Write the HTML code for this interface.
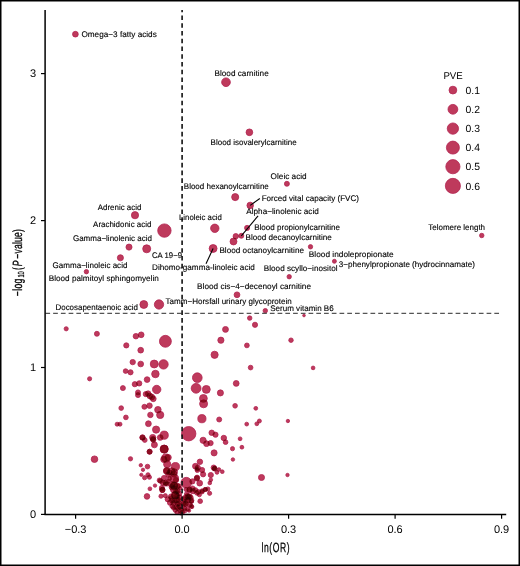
<!DOCTYPE html>
<html><head><meta charset="utf-8"><style>
html,body{margin:0;padding:0;background:#fff;}
body{width:520px;height:566px;overflow:hidden;}
svg{display:block;font-family:"Liberation Sans",sans-serif;text-rendering:geometricPrecision;}
</style></head><body>
<svg width="520" height="566" viewBox="0 0 520 566">
<rect x="0" y="0" width="520" height="566" fill="#fff"/>
<g fill="#be3a5c" stroke="#b32452" stroke-width="0.8">
<circle cx="75.4" cy="34.2" r="2.85" style="mix-blend-mode:multiply"/><circle cx="226" cy="82.25" r="4.35" style="mix-blend-mode:multiply"/><circle cx="249.4" cy="132.3" r="3.35" style="mix-blend-mode:multiply"/><circle cx="286.9" cy="183.8" r="2.50" style="mix-blend-mode:multiply"/><circle cx="235.2" cy="197.1" r="3.55" style="mix-blend-mode:multiply"/><circle cx="250.2" cy="205.4" r="3.25" style="mix-blend-mode:multiply"/><circle cx="135" cy="215.2" r="3.60" style="mix-blend-mode:multiply"/><circle cx="164.4" cy="230.6" r="6.70" style="mix-blend-mode:multiply"/><circle cx="214.8" cy="228.3" r="4.20" style="mix-blend-mode:multiply"/><circle cx="247.1" cy="227.9" r="2.55" style="mix-blend-mode:multiply"/><circle cx="241.3" cy="235.8" r="2.50" style="mix-blend-mode:multiply"/><circle cx="235.8" cy="236.2" r="2.70" style="mix-blend-mode:multiply"/><circle cx="233.5" cy="241.5" r="3.45" style="mix-blend-mode:multiply"/><circle cx="213.1" cy="248.5" r="3.95" style="mix-blend-mode:multiply"/><circle cx="129" cy="247.1" r="3.05" style="mix-blend-mode:multiply"/><circle cx="146.7" cy="248.8" r="4.00" style="mix-blend-mode:multiply"/><circle cx="120.4" cy="257.8" r="3.05" style="mix-blend-mode:multiply"/><circle cx="86.4" cy="271.7" r="2.20" style="mix-blend-mode:multiply"/><circle cx="310.5" cy="246.8" r="2.20" style="mix-blend-mode:multiply"/><circle cx="334.4" cy="261.3" r="2.00" style="mix-blend-mode:multiply"/><circle cx="289.2" cy="276.7" r="2.20" style="mix-blend-mode:multiply"/><circle cx="481.75" cy="235.5" r="2.23" style="mix-blend-mode:multiply"/><circle cx="237" cy="294.8" r="2.90" style="mix-blend-mode:multiply"/><circle cx="143.8" cy="304.5" r="3.93" style="mix-blend-mode:multiply"/><circle cx="159" cy="304.5" r="4.65" style="mix-blend-mode:multiply"/><circle cx="265.3" cy="310.7" r="2.25" style="mix-blend-mode:multiply"/><circle cx="304" cy="315.5" r="1.35" style="mix-blend-mode:multiply"/><circle cx="249.7" cy="318.1" r="2.25" style="mix-blend-mode:multiply"/><circle cx="255" cy="324.8" r="2.60" style="mix-blend-mode:multiply"/><circle cx="66.2" cy="328.8" r="2.10" style="mix-blend-mode:multiply"/><circle cx="96.9" cy="333.8" r="2.50" style="mix-blend-mode:multiply"/><circle cx="135.9" cy="336.2" r="2.75" style="mix-blend-mode:multiply"/><circle cx="141.2" cy="334.8" r="2.85" style="mix-blend-mode:multiply"/><circle cx="126.3" cy="345.4" r="2.60" style="mix-blend-mode:multiply"/><circle cx="140.7" cy="350.2" r="2.85" style="mix-blend-mode:multiply"/><circle cx="132.7" cy="362.1" r="2.70" style="mix-blend-mode:multiply"/><circle cx="140.7" cy="364" r="2.85" style="mix-blend-mode:multiply"/><circle cx="125.6" cy="371.1" r="2.35" style="mix-blend-mode:multiply"/><circle cx="130.5" cy="372.3" r="2.60" style="mix-blend-mode:multiply"/><circle cx="89.6" cy="378.8" r="2.10" style="mix-blend-mode:multiply"/><circle cx="134.8" cy="384.2" r="2.60" style="mix-blend-mode:multiply"/><circle cx="139.2" cy="383.4" r="2.65" style="mix-blend-mode:multiply"/><circle cx="165.4" cy="341.3" r="5.95" style="mix-blend-mode:multiply"/><circle cx="154.2" cy="364" r="3.95" style="mix-blend-mode:multiply"/><circle cx="163.5" cy="364.4" r="4.70" style="mix-blend-mode:multiply"/><circle cx="155.4" cy="374" r="3.75" style="mix-blend-mode:multiply"/><circle cx="147.1" cy="379.6" r="2.85" style="mix-blend-mode:multiply"/><circle cx="225.5" cy="329.4" r="2.95" style="mix-blend-mode:multiply"/><circle cx="220.9" cy="340.2" r="3.10" style="mix-blend-mode:multiply"/><circle cx="214.6" cy="354.8" r="3.60" style="mix-blend-mode:multiply"/><circle cx="197.3" cy="377.7" r="4.85" style="mix-blend-mode:multiply"/><circle cx="246.9" cy="345.4" r="2.40" style="mix-blend-mode:multiply"/><circle cx="291" cy="340.2" r="2.25" style="mix-blend-mode:multiply"/><circle cx="250.6" cy="367.6" r="2.35" style="mix-blend-mode:multiply"/><circle cx="313.1" cy="367.9" r="1.85" style="mix-blend-mode:multiply"/><circle cx="287.9" cy="421" r="1.70" style="mix-blend-mode:multiply"/><circle cx="261.5" cy="477.5" r="3.05" style="mix-blend-mode:multiply"/><circle cx="287.5" cy="475" r="1.70" style="mix-blend-mode:multiply"/><circle cx="122.9" cy="388.1" r="2.50" style="mix-blend-mode:multiply"/><circle cx="138" cy="392.4" r="2.50" style="mix-blend-mode:multiply"/><circle cx="138" cy="395.1" r="2.50" style="mix-blend-mode:multiply"/><circle cx="121.2" cy="408.1" r="2.35" style="mix-blend-mode:multiply"/><circle cx="125.9" cy="417.4" r="2.35" style="mix-blend-mode:multiply"/><circle cx="117.1" cy="424.2" r="2.00" style="mix-blend-mode:multiply"/><circle cx="120" cy="424.2" r="2.00" style="mix-blend-mode:multiply"/><circle cx="156.7" cy="389.5" r="4.20" style="mix-blend-mode:multiply"/><circle cx="145.8" cy="394.1" r="2.60" style="mix-blend-mode:multiply"/><circle cx="148.1" cy="393.6" r="2.75" style="mix-blend-mode:multiply"/><circle cx="149.8" cy="395.9" r="2.85" style="mix-blend-mode:multiply"/><circle cx="151.8" cy="397" r="2.85" style="mix-blend-mode:multiply"/><circle cx="153.3" cy="398.8" r="2.85" style="mix-blend-mode:multiply"/><circle cx="144.4" cy="406.8" r="2.50" style="mix-blend-mode:multiply"/><circle cx="149.5" cy="405.7" r="2.75" style="mix-blend-mode:multiply"/><circle cx="157.9" cy="409.7" r="3.25" style="mix-blend-mode:multiply"/><circle cx="160.2" cy="414.9" r="3.60" style="mix-blend-mode:multiply"/><circle cx="150.4" cy="414.9" r="2.75" style="mix-blend-mode:multiply"/><circle cx="148.4" cy="423.7" r="2.90" style="mix-blend-mode:multiply"/><circle cx="156.1" cy="429.6" r="3.60" style="mix-blend-mode:multiply"/><circle cx="164.2" cy="435.2" r="4.10" style="mix-blend-mode:multiply"/><circle cx="160.2" cy="437.5" r="2.85" style="mix-blend-mode:multiply"/><circle cx="142.5" cy="437.5" r="2.60" style="mix-blend-mode:multiply"/><circle cx="144.8" cy="440.1" r="2.35" style="mix-blend-mode:multiply"/><circle cx="152.7" cy="437.5" r="3.10" style="mix-blend-mode:multiply"/><circle cx="153.3" cy="439.8" r="2.60" style="mix-blend-mode:multiply"/><circle cx="154.4" cy="444.8" r="3.00" style="mix-blend-mode:multiply"/><circle cx="164.2" cy="449.1" r="4.00" style="mix-blend-mode:multiply"/><circle cx="149.6" cy="451.7" r="2.50" style="mix-blend-mode:multiply"/><circle cx="196.1" cy="388.3" r="4.90" style="mix-blend-mode:multiply"/><circle cx="206.3" cy="389.4" r="3.95" style="mix-blend-mode:multiply"/><circle cx="220.4" cy="392.9" r="3.05" style="mix-blend-mode:multiply"/><circle cx="236.2" cy="383.4" r="2.90" style="mix-blend-mode:multiply"/><circle cx="203.4" cy="398.4" r="3.90" style="mix-blend-mode:multiply"/><circle cx="203.6" cy="403.8" r="4.00" style="mix-blend-mode:multiply"/><circle cx="235.1" cy="405.8" r="2.35" style="mix-blend-mode:multiply"/><circle cx="255.8" cy="408.3" r="1.90" style="mix-blend-mode:multiply"/><circle cx="201.9" cy="418.7" r="4.10" style="mix-blend-mode:multiply"/><circle cx="219.2" cy="419.5" r="2.50" style="mix-blend-mode:multiply"/><circle cx="188.7" cy="433.7" r="7.20" style="mix-blend-mode:multiply"/><circle cx="211.7" cy="432.8" r="2.75" style="mix-blend-mode:multiply"/><circle cx="215.5" cy="434.7" r="2.60" style="mix-blend-mode:multiply"/><circle cx="223.8" cy="438" r="2.75" style="mix-blend-mode:multiply"/><circle cx="225.6" cy="442.2" r="2.35" style="mix-blend-mode:multiply"/><circle cx="203.1" cy="440.3" r="3.10" style="mix-blend-mode:multiply"/><circle cx="206.5" cy="443.7" r="2.85" style="mix-blend-mode:multiply"/><circle cx="210.6" cy="443.1" r="2.60" style="mix-blend-mode:multiply"/><circle cx="232.5" cy="448.7" r="2.10" style="mix-blend-mode:multiply"/><circle cx="246.7" cy="424.1" r="1.90" style="mix-blend-mode:multiply"/><circle cx="256.8" cy="423.8" r="1.90" style="mix-blend-mode:multiply"/><circle cx="259.4" cy="421" r="2.00" style="mix-blend-mode:multiply"/><circle cx="240.1" cy="438.8" r="1.90" style="mix-blend-mode:multiply"/><circle cx="241.9" cy="447.2" r="1.90" style="mix-blend-mode:multiply"/><circle cx="232.9" cy="459.5" r="1.75" style="mix-blend-mode:multiply"/><circle cx="94.5" cy="459.2" r="3.30" style="mix-blend-mode:multiply"/><circle cx="130.5" cy="458.8" r="2.15" style="mix-blend-mode:multiply"/><circle cx="165.8" cy="458" r="4.10" style="mix-blend-mode:multiply"/><circle cx="168.2" cy="457.5" r="3.10" style="mix-blend-mode:multiply"/><circle cx="163.8" cy="459.4" r="3.10" style="mix-blend-mode:multiply"/><circle cx="140.8" cy="465.2" r="1.70" style="mix-blend-mode:multiply"/><circle cx="147.5" cy="466.6" r="2.35" style="mix-blend-mode:multiply"/><circle cx="143" cy="469.8" r="1.70" style="mix-blend-mode:multiply"/><circle cx="167.2" cy="464.2" r="3.60" style="mix-blend-mode:multiply"/><circle cx="175.4" cy="466.6" r="4.10" style="mix-blend-mode:multiply"/><circle cx="166.7" cy="470.5" r="3.10" style="mix-blend-mode:multiply"/><circle cx="171.5" cy="471.4" r="3.60" style="mix-blend-mode:multiply"/><circle cx="174.4" cy="471.9" r="3.10" style="mix-blend-mode:multiply"/><circle cx="141.3" cy="474.8" r="1.60" style="mix-blend-mode:multiply"/><circle cx="148" cy="474.8" r="2.10" style="mix-blend-mode:multiply"/><circle cx="144.6" cy="477.7" r="2.10" style="mix-blend-mode:multiply"/><circle cx="149.4" cy="477.2" r="2.10" style="mix-blend-mode:multiply"/><circle cx="174.5" cy="478.5" r="4.10" style="mix-blend-mode:multiply"/><circle cx="149.9" cy="488.8" r="1.90" style="mix-blend-mode:multiply"/><circle cx="155" cy="485.6" r="1.70" style="mix-blend-mode:multiply"/><circle cx="147" cy="496.4" r="2.80" style="mix-blend-mode:multiply"/><circle cx="159.5" cy="480.3" r="2.35" style="mix-blend-mode:multiply"/><circle cx="162.9" cy="482.7" r="2.60" style="mix-blend-mode:multiply"/><circle cx="165.8" cy="482.7" r="2.60" style="mix-blend-mode:multiply"/><circle cx="162.4" cy="489.9" r="2.60" style="mix-blend-mode:multiply"/><circle cx="161" cy="496.2" r="2.10" style="mix-blend-mode:multiply"/><circle cx="165.3" cy="495.7" r="2.10" style="mix-blend-mode:multiply"/><circle cx="214.1" cy="452.9" r="3.05" style="mix-blend-mode:multiply"/><circle cx="199.9" cy="461.8" r="2.75" style="mix-blend-mode:multiply"/><circle cx="195.4" cy="466.2" r="2.85" style="mix-blend-mode:multiply"/><circle cx="197.8" cy="467.6" r="2.60" style="mix-blend-mode:multiply"/><circle cx="202.1" cy="470" r="2.60" style="mix-blend-mode:multiply"/><circle cx="197.3" cy="470.5" r="2.10" style="mix-blend-mode:multiply"/><circle cx="203.1" cy="474.3" r="2.60" style="mix-blend-mode:multiply"/><circle cx="210.8" cy="475" r="2.60" style="mix-blend-mode:multiply"/><circle cx="213.7" cy="467.6" r="2.60" style="mix-blend-mode:multiply"/><circle cx="214.6" cy="468.6" r="2.35" style="mix-blend-mode:multiply"/><circle cx="218.9" cy="469.5" r="1.85" style="mix-blend-mode:multiply"/><circle cx="217" cy="472.4" r="1.85" style="mix-blend-mode:multiply"/><circle cx="222.3" cy="471.7" r="1.85" style="mix-blend-mode:multiply"/><circle cx="197.1" cy="477.7" r="2.60" style="mix-blend-mode:multiply"/><circle cx="186.3" cy="482.7" r="5.35" style="mix-blend-mode:multiply"/><circle cx="196.8" cy="478.4" r="2.60" style="mix-blend-mode:multiply"/><circle cx="199.7" cy="483.2" r="2.85" style="mix-blend-mode:multiply"/><circle cx="210.8" cy="479.8" r="1.85" style="mix-blend-mode:multiply"/><circle cx="209.8" cy="482.9" r="1.85" style="mix-blend-mode:multiply"/><circle cx="207.9" cy="489" r="2.10" style="mix-blend-mode:multiply"/><circle cx="205.5" cy="489.5" r="2.10" style="mix-blend-mode:multiply"/><circle cx="209.6" cy="493.3" r="2.10" style="mix-blend-mode:multiply"/><circle cx="202.1" cy="490.9" r="2.10" style="mix-blend-mode:multiply"/><circle cx="198.3" cy="491.9" r="2.35" style="mix-blend-mode:multiply"/><circle cx="195.4" cy="490" r="2.35" style="mix-blend-mode:multiply"/><circle cx="192.5" cy="488.5" r="2.60" style="mix-blend-mode:multiply"/><circle cx="189.6" cy="490" r="2.60" style="mix-blend-mode:multiply"/><circle cx="200.2" cy="501.2" r="2.35" style="mix-blend-mode:multiply"/><circle cx="190.6" cy="497.6" r="2.60" style="mix-blend-mode:multiply"/><circle cx="187.7" cy="496.2" r="2.60" style="mix-blend-mode:multiply"/><circle cx="191.5" cy="501.5" r="2.10" style="mix-blend-mode:multiply"/><circle cx="192" cy="506.8" r="1.85" style="mix-blend-mode:multiply"/><circle cx="189.1" cy="510.6" r="1.60" style="mix-blend-mode:multiply"/><circle cx="185.8" cy="503.9" r="2.60" style="mix-blend-mode:multiply"/><circle cx="184.8" cy="508.7" r="2.10" style="mix-blend-mode:multiply"/><circle cx="182.4" cy="512.5" r="2.10" style="mix-blend-mode:multiply"/><circle cx="166.5" cy="471.2" r="3.10" style="mix-blend-mode:multiply"/><circle cx="174" cy="474.1" r="3.10" style="mix-blend-mode:multiply"/><circle cx="168.3" cy="474.7" r="2.60" style="mix-blend-mode:multiply"/><circle cx="174" cy="485.7" r="3.60" style="mix-blend-mode:multiply"/><circle cx="174" cy="485.7" r="3.60" style="mix-blend-mode:multiply"/><circle cx="171.7" cy="484.5" r="3.10" style="mix-blend-mode:multiply"/><circle cx="176.9" cy="486.2" r="3.10" style="mix-blend-mode:multiply"/><circle cx="165.4" cy="483.9" r="2.10" style="mix-blend-mode:multiply"/><circle cx="161.9" cy="488" r="2.60" style="mix-blend-mode:multiply"/><circle cx="168.3" cy="481" r="2.10" style="mix-blend-mode:multiply"/><circle cx="167.7" cy="499.3" r="2.60" style="mix-blend-mode:multiply"/><circle cx="170" cy="502.7" r="2.60" style="mix-blend-mode:multiply"/><circle cx="172.3" cy="506.2" r="2.35" style="mix-blend-mode:multiply"/><circle cx="173.5" cy="507.9" r="2.10" style="mix-blend-mode:multiply"/><circle cx="175.2" cy="510.2" r="2.10" style="mix-blend-mode:multiply"/><circle cx="172.3" cy="500.4" r="2.60" style="mix-blend-mode:multiply"/><circle cx="175.2" cy="495.2" r="3.60" style="mix-blend-mode:multiply"/><circle cx="175.2" cy="495.2" r="3.60" style="mix-blend-mode:multiply"/><circle cx="176.4" cy="499.8" r="3.10" style="mix-blend-mode:multiply"/><circle cx="174" cy="489.5" r="3.60" style="mix-blend-mode:multiply"/><circle cx="171.7" cy="487.2" r="2.60" style="mix-blend-mode:multiply"/><circle cx="179.2" cy="503.3" r="2.60" style="mix-blend-mode:multiply"/><circle cx="178.1" cy="507.9" r="2.60" style="mix-blend-mode:multiply"/><circle cx="180.4" cy="510.2" r="2.60" style="mix-blend-mode:multiply"/><circle cx="179.2" cy="493.5" r="2.60" style="mix-blend-mode:multiply"/><circle cx="179.8" cy="497.5" r="2.60" style="mix-blend-mode:multiply"/><circle cx="183.3" cy="503.3" r="2.60" style="mix-blend-mode:multiply"/><circle cx="183.9" cy="499.3" r="2.60" style="mix-blend-mode:multiply"/><circle cx="177" cy="512.5" r="2.10" style="mix-blend-mode:multiply"/><circle cx="181" cy="513" r="2.10" style="mix-blend-mode:multiply"/><circle cx="185.5" cy="497.5" r="2.60" style="mix-blend-mode:multiply"/><circle cx="189.5" cy="496.4" r="2.60" style="mix-blend-mode:multiply"/><circle cx="191.3" cy="500.4" r="2.60" style="mix-blend-mode:multiply"/><circle cx="189.5" cy="504.5" r="2.60" style="mix-blend-mode:multiply"/><circle cx="191.3" cy="506.2" r="2.10" style="mix-blend-mode:multiply"/><circle cx="187.8" cy="509.1" r="2.10" style="mix-blend-mode:multiply"/><circle cx="184.9" cy="510.8" r="2.10" style="mix-blend-mode:multiply"/><circle cx="184.3" cy="504.5" r="2.60" style="mix-blend-mode:multiply"/><circle cx="179.7" cy="506.2" r="2.60" style="mix-blend-mode:multiply"/><circle cx="189.5" cy="489.5" r="2.60" style="mix-blend-mode:multiply"/><circle cx="193" cy="491.2" r="2.60" style="mix-blend-mode:multiply"/><circle cx="197" cy="492.9" r="2.35" style="mix-blend-mode:multiply"/><circle cx="199.4" cy="494.7" r="2.10" style="mix-blend-mode:multiply"/><circle cx="202.2" cy="491.8" r="2.10" style="mix-blend-mode:multiply"/><circle cx="205.1" cy="489.5" r="2.10" style="mix-blend-mode:multiply"/><circle cx="192.4" cy="481.4" r="2.60" style="mix-blend-mode:multiply"/><circle cx="164.2" cy="449.1" r="4.00" style="mix-blend-mode:multiply"/><circle cx="149.6" cy="451.7" r="2.50" style="mix-blend-mode:multiply"/><circle cx="214.6" cy="468.6" r="2.35" style="mix-blend-mode:multiply"/><circle cx="160.5" cy="481" r="2.35" style="mix-blend-mode:multiply"/><circle cx="177" cy="496" r="2.60" style="mix-blend-mode:multiply"/><circle cx="174.6" cy="500.8" r="2.60" style="mix-blend-mode:multiply"/><circle cx="176" cy="480" r="2.60" style="mix-blend-mode:multiply"/><circle cx="179" cy="486" r="2.10" style="mix-blend-mode:multiply"/><circle cx="167" cy="484" r="2.10" style="mix-blend-mode:multiply"/><circle cx="186" cy="489.5" r="2.10" style="mix-blend-mode:multiply"/><circle cx="197" cy="469" r="2.10" style="mix-blend-mode:multiply"/><circle cx="180.3" cy="488.3" r="1.85" style="mix-blend-mode:multiply"/><circle cx="173.5" cy="503" r="2.60" style="mix-blend-mode:multiply"/><circle cx="176.5" cy="507" r="2.60" style="mix-blend-mode:multiply"/><circle cx="171" cy="498" r="2.10" style="mix-blend-mode:multiply"/><circle cx="178.5" cy="500" r="2.60" style="mix-blend-mode:multiply"/><circle cx="176" cy="491.5" r="2.60" style="mix-blend-mode:multiply"/><circle cx="164" cy="478" r="2.60" style="mix-blend-mode:multiply"/><circle cx="186.5" cy="494" r="2.10" style="mix-blend-mode:multiply"/><circle cx="177.5" cy="504" r="2.35" style="mix-blend-mode:multiply"/><circle cx="188.5" cy="497" r="2.60" style="mix-blend-mode:multiply"/><circle cx="181.5" cy="509" r="2.10" style="mix-blend-mode:multiply"/><circle cx="142.5" cy="437.5" r="2.60" style="mix-blend-mode:multiply"/><circle cx="153" cy="439" r="2.60" style="mix-blend-mode:multiply"/><circle cx="162.4" cy="489.9" r="2.60" style="mix-blend-mode:multiply"/><circle cx="171" cy="496.5" r="2.60" style="mix-blend-mode:multiply"/><circle cx="188" cy="500" r="2.60" style="mix-blend-mode:multiply"/><circle cx="186" cy="501" r="2.10" style="mix-blend-mode:multiply"/><circle cx="169.5" cy="472.5" r="2.60" style="mix-blend-mode:multiply"/><circle cx="169.5" cy="478.5" r="2.10" style="mix-blend-mode:multiply"/><circle cx="177.5" cy="491" r="2.60" style="mix-blend-mode:multiply"/>
</g>
<line x1="45.4" y1="313.4" x2="502" y2="313.4" stroke="#555" stroke-width="1.1" stroke-dasharray="4.7 3.04"/>
<line x1="182.1" y1="10" x2="182.1" y2="514.4" stroke="#111" stroke-width="1.6" stroke-dasharray="4.6 3.16" stroke-dashoffset="2.36"/>
<line x1="250.2" y1="205.4" x2="259.8" y2="198.5" stroke="#000" stroke-width="1.1"/>
<line x1="241.3" y1="235.8" x2="258.1" y2="215.8" stroke="#000" stroke-width="1.1"/>
<line x1="213.1" y1="248.5" x2="206" y2="263.8" stroke="#000" stroke-width="1.1"/>
<g font-size="8.1" fill="#000" stroke="#000" stroke-width="0.12">
<text x="81.4" y="36.9" textLength="75.4" lengthAdjust="spacingAndGlyphs">Omega−3 fatty acids</text>
<text x="214.5" y="75.5" textLength="54.2" lengthAdjust="spacingAndGlyphs">Blood carnitine</text>
<text x="210.6" y="144.8" textLength="86.1" lengthAdjust="spacingAndGlyphs">Blood isovalerylcarnitine</text>
<text x="270.6" y="178.5" textLength="36.1" lengthAdjust="spacingAndGlyphs">Oleic acid</text>
<text x="183.8" y="189.4" textLength="85.0" lengthAdjust="spacingAndGlyphs">Blood hexanoylcarnitine</text>
<text x="261.7" y="200.7" textLength="97.3" lengthAdjust="spacingAndGlyphs">Forced vital capacity (FVC)</text>
<text x="246.3" y="214.3" textLength="72.5" lengthAdjust="spacingAndGlyphs">Alpha−linolenic acid</text>
<text x="179" y="220.1" textLength="42.9" lengthAdjust="spacingAndGlyphs">Linoleic acid</text>
<text x="97.8" y="209.5" textLength="43.6" lengthAdjust="spacingAndGlyphs">Adrenic acid</text>
<text x="93.1" y="227.2" textLength="58.3" lengthAdjust="spacingAndGlyphs">Arachidonic acid</text>
<text x="72.9" y="241" textLength="79.1" lengthAdjust="spacingAndGlyphs">Gamma−linolenic acid</text>
<text x="254.2" y="230.3" textLength="85.8" lengthAdjust="spacingAndGlyphs">Blood propionylcarnitine</text>
<text x="245.5" y="240.2" textLength="86.4" lengthAdjust="spacingAndGlyphs">Blood decanoylcarnitine</text>
<text x="152" y="257.7" textLength="30.0" lengthAdjust="spacingAndGlyphs">CA 19−9</text>
<text x="219.4" y="253.3" textLength="84.6" lengthAdjust="spacingAndGlyphs">Blood octanoylcarnitine</text>
<text x="308.8" y="256.7" textLength="84.9" lengthAdjust="spacingAndGlyphs">Blood indolepropionate</text>
<text x="52.6" y="267.5" textLength="74.8" lengthAdjust="spacingAndGlyphs">Gamma−linoleic acid</text>
<text x="152" y="270.2" textLength="102.8" lengthAdjust="spacingAndGlyphs">Dihomo-gamma-linoleic acid</text>
<text x="338.7" y="266.5" textLength="136.3" lengthAdjust="spacingAndGlyphs">3−phenylpropionate (hydrocinnamate)</text>
<text x="263.8" y="271.3" textLength="73.7" lengthAdjust="spacingAndGlyphs">Blood scyllo−inositol</text>
<text x="48.7" y="280.8" textLength="110.1" lengthAdjust="spacingAndGlyphs">Blood palmitoyl sphingomyelin</text>
<text x="197.1" y="288.6" textLength="113.9" lengthAdjust="spacingAndGlyphs">Blood cis−4−decenoyl carnitine</text>
<text x="55.5" y="309.5" textLength="82.5" lengthAdjust="spacingAndGlyphs">Docosapentaenoic acid</text>
<text x="165.6" y="303.8" textLength="126.2" lengthAdjust="spacingAndGlyphs">Tamm−Horsfall urinary glycoprotein</text>
<text x="270.2" y="311.3" textLength="63.5" lengthAdjust="spacingAndGlyphs">Serum vitamin B6</text>
<text x="428.25" y="230" textLength="56.8" lengthAdjust="spacingAndGlyphs">Telomere length</text>
</g>
<line x1="45.1" y1="10" x2="45.1" y2="515.1" stroke="#000" stroke-width="1.5"/>
<line x1="44.4" y1="514.4" x2="506.2" y2="514.4" stroke="#000" stroke-width="1.5"/>
<line x1="41" y1="514.4" x2="45" y2="514.4" stroke="#000" stroke-width="1.2"/>
<text x="36" y="517.6" font-size="11" text-anchor="end" fill="#000">0</text>
<line x1="41" y1="367.5" x2="45" y2="367.5" stroke="#000" stroke-width="1.2"/>
<text x="36" y="370.7" font-size="11" text-anchor="end" fill="#000">1</text>
<line x1="41" y1="220.6" x2="45" y2="220.6" stroke="#000" stroke-width="1.2"/>
<text x="36" y="223.8" font-size="11" text-anchor="end" fill="#000">2</text>
<line x1="41" y1="73.6" x2="45" y2="73.6" stroke="#000" stroke-width="1.2"/>
<text x="36" y="76.8" font-size="11" text-anchor="end" fill="#000">3</text>
<line x1="75.6" y1="514.4" x2="75.6" y2="518.7" stroke="#000" stroke-width="1.2"/>
<text x="75.6" y="533.1" font-size="11" text-anchor="middle" fill="#000">−0.3</text>
<line x1="182.1" y1="514.4" x2="182.1" y2="518.7" stroke="#000" stroke-width="1.2"/>
<text x="182.1" y="533.1" font-size="11" text-anchor="middle" fill="#000">0.0</text>
<line x1="288.6" y1="514.4" x2="288.6" y2="518.7" stroke="#000" stroke-width="1.2"/>
<text x="288.6" y="533.1" font-size="11" text-anchor="middle" fill="#000">0.3</text>
<line x1="395.1" y1="514.4" x2="395.1" y2="518.7" stroke="#000" stroke-width="1.2"/>
<text x="395.1" y="533.1" font-size="11" text-anchor="middle" fill="#000">0.6</text>
<line x1="501.6" y1="514.4" x2="501.6" y2="518.7" stroke="#000" stroke-width="1.2"/>
<text x="501.6" y="533.1" font-size="11" text-anchor="middle" fill="#000">0.9</text>
<text transform="translate(261.4,552.4) scale(0.64,1)" font-size="13.4" textLength="44.22" lengthAdjust="spacing" fill="#000" stroke="#000" stroke-width="0.25">ln(OR)</text>
<text transform="translate(21.8,295.6) rotate(-90) scale(0.64,1)" x="-0.94" font-size="13.4" textLength="27.34" lengthAdjust="spacing" fill="#000" stroke="#000" stroke-width="0.25">−log</text>
<text transform="translate(24.400000000000002,295.6) rotate(-90) scale(0.64,1)" x="28.12" font-size="8.8" textLength="9.84" lengthAdjust="spacing" fill="#000" stroke="#000" stroke-width="0.25">10</text>
<text transform="translate(21.8,295.6) rotate(-90) scale(0.64,1)" x="40.00" font-size="13.4" textLength="6.25" lengthAdjust="spacing" fill="#000" stroke="#000" stroke-width="0.25">(</text>
<text transform="translate(21.8,295.6) rotate(-90) scale(0.64,1)" x="45.94" font-size="13.4" textLength="11.88" lengthAdjust="spacing" font-style="italic" fill="#000" stroke="#000" stroke-width="0.25">P</text>
<text transform="translate(21.8,295.6) rotate(-90) scale(0.64,1)" x="57.66" font-size="13.4" textLength="46.09" lengthAdjust="spacing" fill="#000" stroke="#000" stroke-width="0.25">−value)</text>
<text x="443.4" y="78.8" font-size="9.7" fill="#000">PVE</text>
<circle cx="452.9" cy="90.1" r="3.90" fill="#be3a5c" stroke="#b32452" stroke-width="0.8"/>
<text x="465.5" y="93.8" font-size="10.4" fill="#000">0.1</text>
<circle cx="452.9" cy="109.3" r="4.90" fill="#be3a5c" stroke="#b32452" stroke-width="0.8"/>
<text x="465.5" y="113.0" font-size="10.4" fill="#000">0.2</text>
<circle cx="452.9" cy="128.6" r="5.65" fill="#be3a5c" stroke="#b32452" stroke-width="0.8"/>
<text x="465.5" y="132.3" font-size="10.4" fill="#000">0.3</text>
<circle cx="452.9" cy="147.6" r="6.50" fill="#be3a5c" stroke="#b32452" stroke-width="0.8"/>
<text x="465.5" y="151.3" font-size="10.4" fill="#000">0.4</text>
<circle cx="452.9" cy="166.7" r="7.10" fill="#be3a5c" stroke="#b32452" stroke-width="0.8"/>
<text x="465.5" y="170.4" font-size="10.4" fill="#000">0.5</text>
<circle cx="452.9" cy="185.9" r="7.55" fill="#be3a5c" stroke="#b32452" stroke-width="0.8"/>
<text x="465.5" y="189.6" font-size="10.4" fill="#000">0.6</text>
<rect x="0.75" y="0.75" width="518.5" height="564.5" fill="none" stroke="#000" stroke-width="1.5"/>
</svg>
</body></html>
